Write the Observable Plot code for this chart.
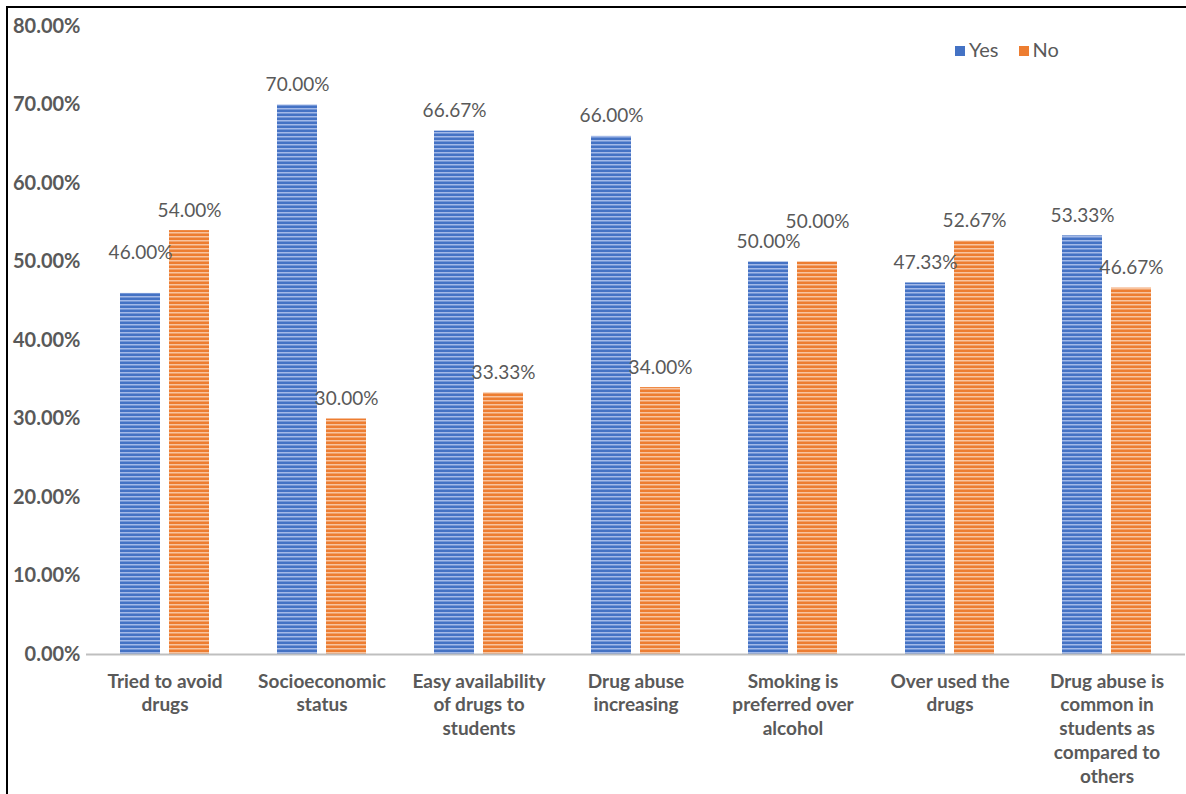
<!DOCTYPE html>
<html>
<head>
<meta charset="utf-8">
<script src="https://cdn.jsdelivr.net/npm/d3@7"></script>
<script src="https://cdn.jsdelivr.net/npm/@observablehq/plot@0.6"></script>
<style>
  html, body { margin: 0; padding: 0; background: #fff; }
  #frame {
    position: absolute; left: 6px; top: 6px; width: 1180px; height: 788px;
    border-left: 2px solid #000; border-top: 2px solid #000; box-sizing: border-box;
    font-family: Lato, "Open Sans", sans-serif;
  }
  #chart { position: absolute; left: 0; top: 0; }
  #legend {
    position: absolute; left: 947px; top: 29px; display: flex; gap: 20px;
    font-size: 20px; color: #595959; align-items: center;
  }
  #legend span.sw { display: inline-block; width: 10px; height: 10px; margin-right: 4px; vertical-align: middle; position: relative; top: -1px; }
</style>
</head>
<body>
<div id="frame">
  <div id="chart"></div>
  <div id="legend"></div>
</div>
<script>
const categories = [
  "Tried to avoid drugs",
  "Socioeconomic status",
  "Easy availability of drugs to students",
  "Drug abuse increasing",
  "Smoking is preferred over alcohol",
  "Over used the drugs",
  "Drug abuse is common in students as compared to others"
];
const categoryLabels = [
  "Tried to avoid\ndrugs",
  "Socioeconomic\nstatus",
  "Easy availability\nof drugs to\nstudents",
  "Drug abuse\nincreasing",
  "Smoking is\npreferred over\nalcohol",
  "Over used the\ndrugs",
  "Drug abuse is\ncommon in\nstudents as\ncompared to\nothers"
];
const series = ["Yes", "No"];
const yesValues = [46.00, 70.00, 66.67, 66.00, 50.00, 47.33, 53.33];
const noValues  = [54.00, 30.00, 33.33, 34.00, 50.00, 52.67, 46.67];
const yTicks = [0, 10, 20, 30, 40, 50, 60, 70, 80];
// labels that the original chart lifted higher to avoid overlaps
const raisedLabels = [["Tried to avoid drugs", "Yes"], ["Smoking is preferred over alcohol", "No"]];

const data = [];
categories.forEach((c, i) => {
  data.push({category: c, series: "Yes", value: yesValues[i]});
  data.push({category: c, series: "No", value: noValues[i]});
});
const isRaised = d => raisedLabels.some(([c, s]) => c === d.category && s === d.series);
const labelOf = new Map(categories.map((c, i) => [c, categoryLabels[i]]));
const fmt = v => v.toFixed(2) + "%";

const fills = {Yes: "url(#stripeYes)", No: "url(#stripeNo)"};
const base = {Yes: "#4472C4", No: "#ED7D31"};

const common = {fx: "category", x: "series", y: "value"};
const barMarks = series.map(s => Plot.barY(data.filter(d => d.series === s), {...common, fill: fills[s]}));

const textStyle = {fill: "#595959", fontSize: 19, fontFamily: "Lato, 'Open Sans', sans-serif"};

const chart = Plot.plot({
  width: 1178,
  height: 786,
  marginLeft: 77,
  marginRight: 1,
  marginTop: 18,
  marginBottom: 140,
  style: {fontFamily: "Lato, 'Open Sans', sans-serif", background: "#fff", overflow: "visible"},
  fx: {domain: categories, padding: 0, label: null, axis: null},
  x: {domain: series, paddingInner: 0.184, paddingOuter: 0.694, axis: null},
  y: {domain: [0, 80], label: null},
  marks: [
    ...barMarks,
    Plot.text(data.filter(d => !isRaised(d)), {...common, text: d => fmt(d.value), dy: -20, ...textStyle}),
    Plot.text(data.filter(isRaised), {...common, text: d => fmt(d.value), dy: -40, ...textStyle}),
    Plot.axisY({ticks: yTicks, tickFormat: d => d.toFixed(2) + "%", tickSize: 0, tickPadding: 6, label: null,
      fontSize: 20, fontWeight: "bold", fill: "#595959"}),
    Plot.axisFx({anchor: "bottom", tickFormat: d => labelOf.get(d), tickSize: 0, tickPadding: 16, label: null,
      fontSize: 19, fontWeight: "bold", fill: "#595959", lineHeight: 1.26, textOverflow: null}),
    Plot.ruleY([0], {stroke: "#BFBFBF", strokeWidth: 2, fx: null})
  ]
});

// stripe patterns
const svg = d3.select(chart);
const defs = svg.insert("defs", ":first-child");
[["stripeYes", "#4472C4", "#A3B9E8"], ["stripeNo", "#ED7D31", "#F8C4A0"]].forEach(([id, c1, c2]) => {
  const p = defs.append("pattern").attr("id", id).attr("patternUnits", "userSpaceOnUse")
    .attr("width", 8).attr("height", 4);
  p.append("rect").attr("width", 8).attr("height", 4).attr("fill", c1);
  p.append("rect").attr("y", 0).attr("width", 8).attr("height", 1.5).attr("fill", c2);
});

document.getElementById("chart").appendChild(chart);

const legend = d3.select("#legend");
series.forEach(s => {
  const item = legend.append("div");
  item.append("span").attr("class", "sw").style("background", base[s]);
  item.append("span").text(s);
});
</script>
</body>
</html>
